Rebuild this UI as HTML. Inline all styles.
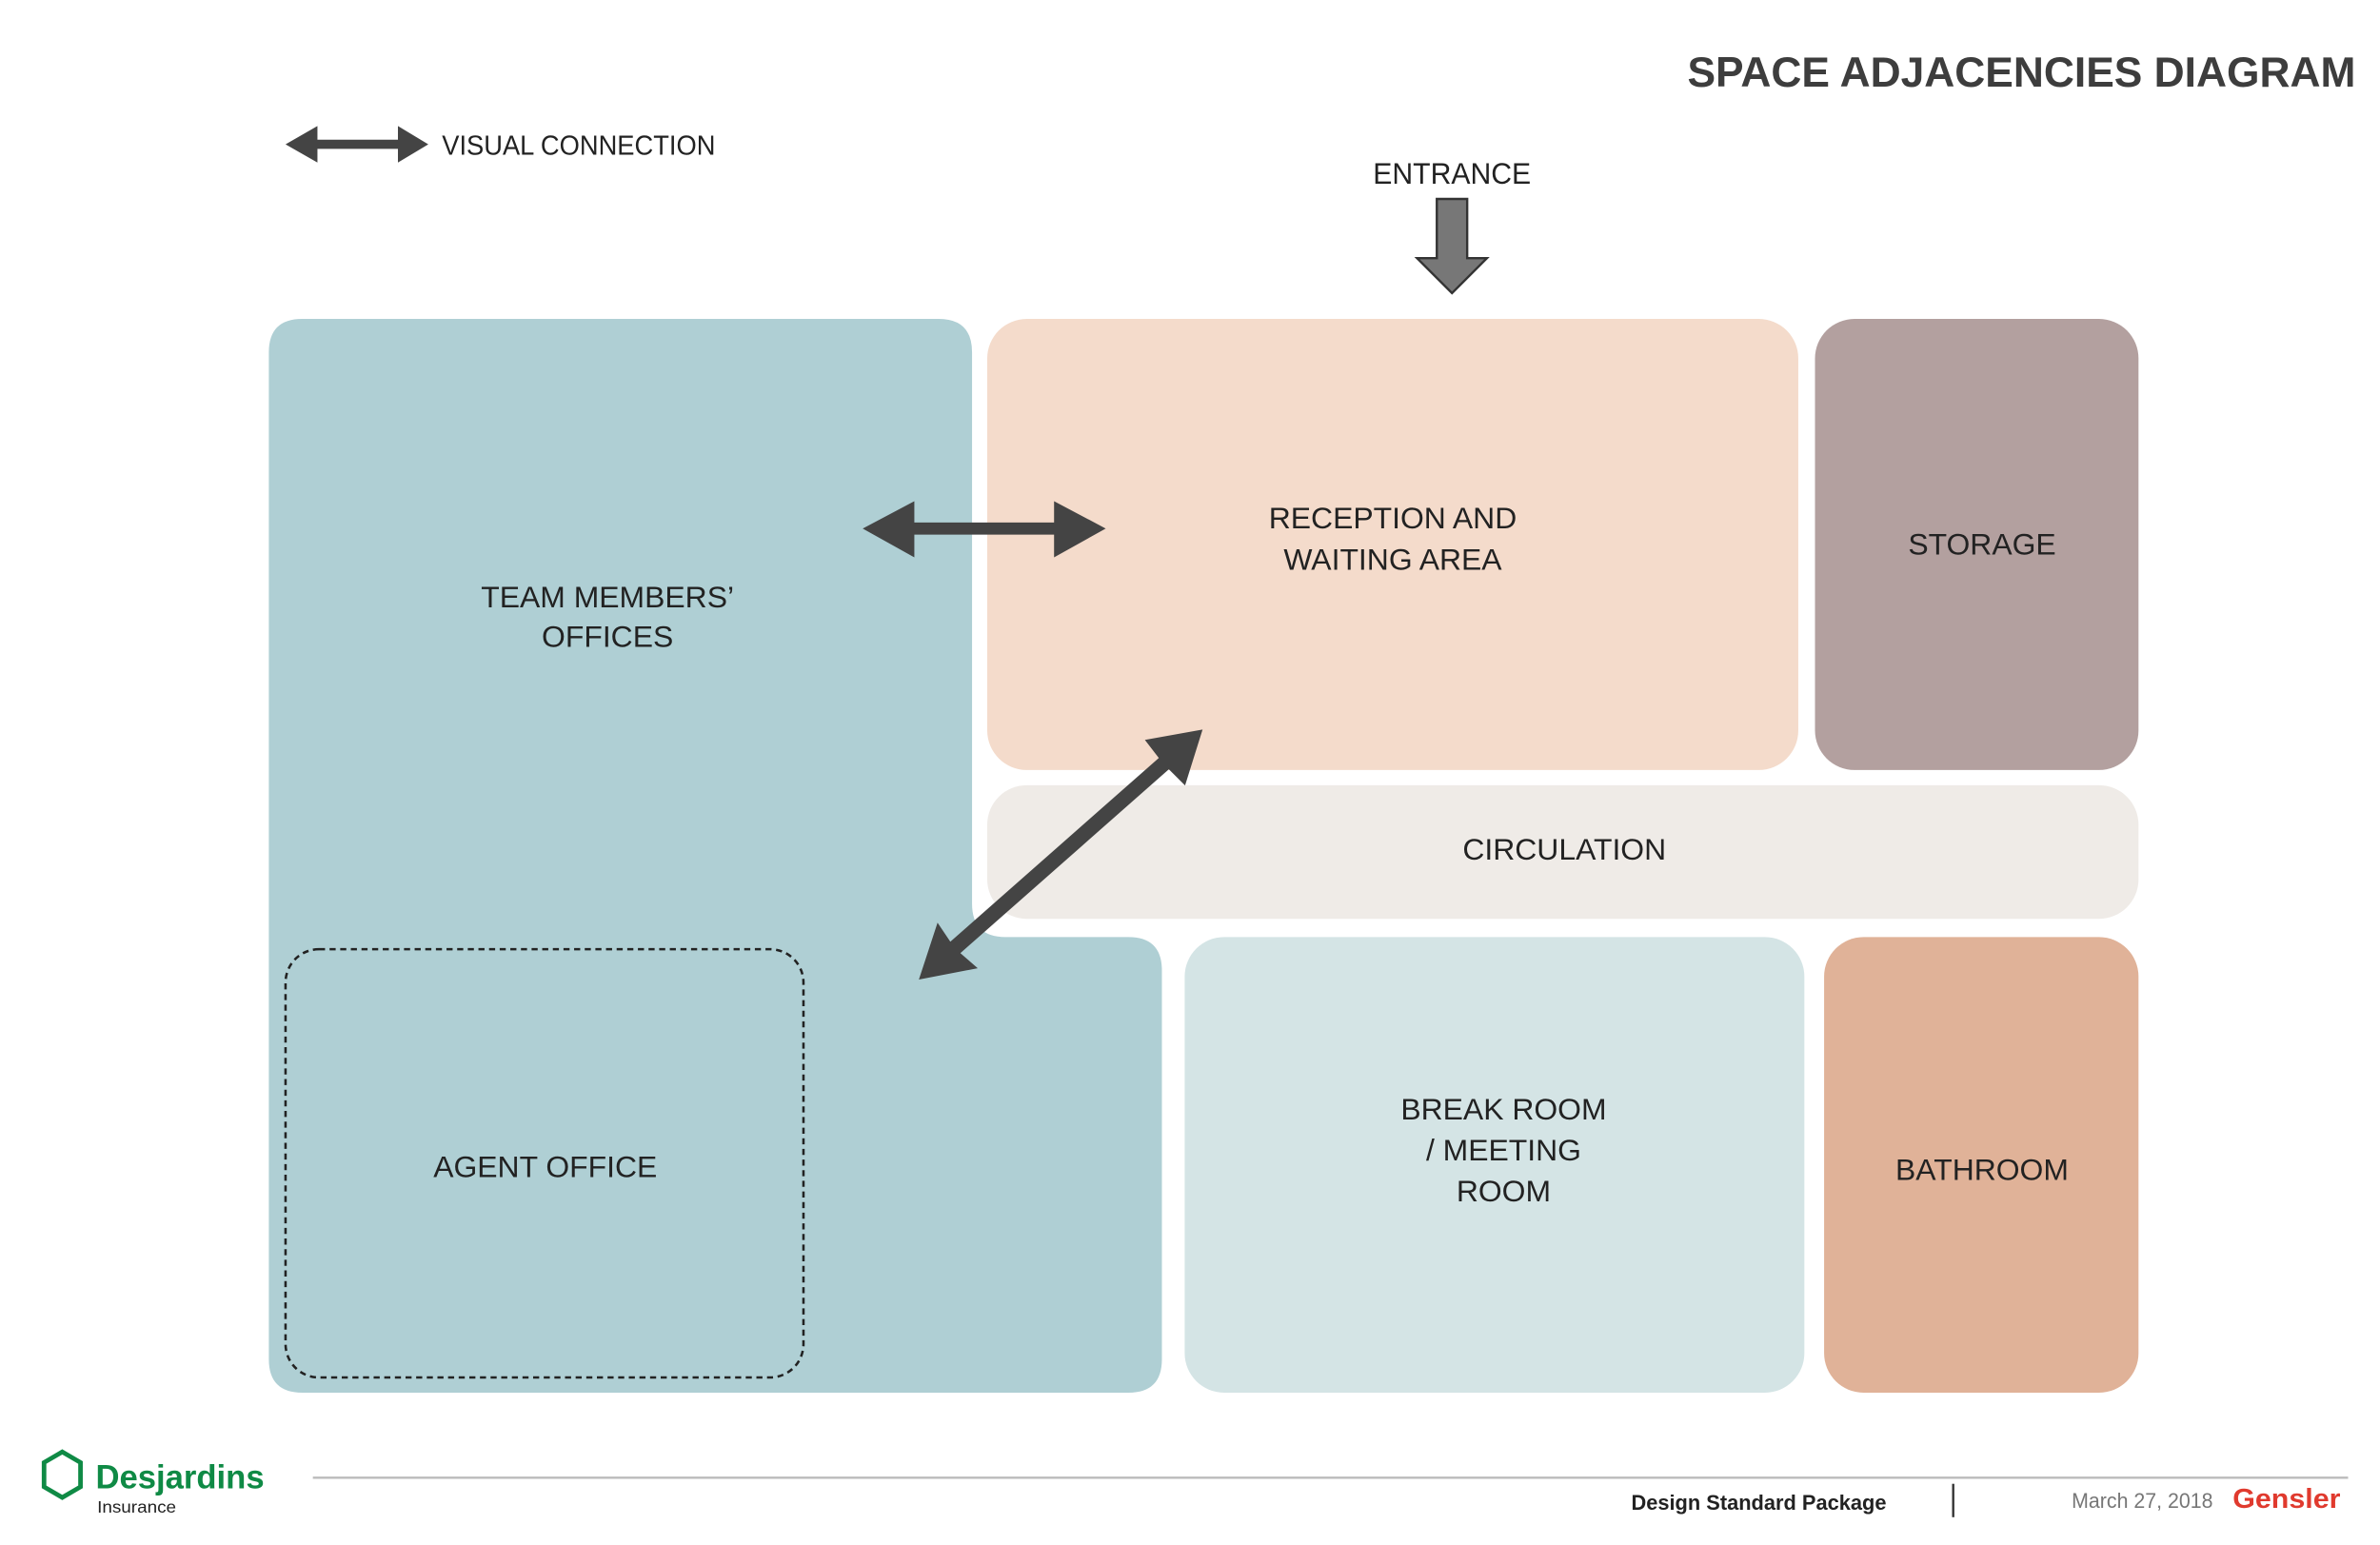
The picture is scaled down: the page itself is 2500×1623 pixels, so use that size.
<!DOCTYPE html>
<html><head><meta charset="utf-8"><style>
html,body{margin:0;padding:0;background:#fff;width:2500px;height:1623px;overflow:hidden}
svg{display:block}
text{font-family:"Liberation Sans",sans-serif;fill:#222}
</style></head><body>
<svg width="2500" height="1623" viewBox="0 0 1567 1017.3" xmlns="http://www.w3.org/2000/svg">
<text x="1551" y="57" text-anchor="end" font-size="28" font-weight="bold" textLength="440" lengthAdjust="spacingAndGlyphs" style="fill:#3d3d3d">SPACE ADJACENCIES DIAGRAM</text>
<polygon points="188,95 209,83 209,92 262,92 262,83 282,95 262,107 262,98 209,98 209,107" fill="#444"/>
<text x="291" y="102" font-size="18" textLength="180" lengthAdjust="spacingAndGlyphs">VISUAL CONNECTION</text>
<text x="956" y="121" text-anchor="middle" font-size="20" textLength="104" lengthAdjust="spacingAndGlyphs">ENTRANCE</text>
<polygon points="946,131 966,131 966,170 979,170 956,193 933,170 946,170" fill="#777" stroke="#333" stroke-width="1.5"/>
<path d="M199,210 H618 Q640,210 640,232 V595 Q640,617 662,617 H743 Q765,617 765,639 V895 Q765,917 743,917 H199 Q177,917 177,895 V232 Q177,210 199,210 Z" fill="#afcfd4"/>
<rect x="650" y="210" width="534" height="297" rx="26" fill="#f4dbcb"/>
<rect x="1195" y="210" width="213" height="297" rx="26" fill="#b3a09f"/>
<rect x="650" y="517" width="758" height="88" rx="26" fill="#efebe7"/>
<rect x="780" y="617" width="408" height="300" rx="26" fill="#d4e4e5"/>
<rect x="1201" y="617" width="207" height="300" rx="26" fill="#e0b298"/>
<rect x="188" y="625" width="341" height="282" rx="22" fill="none" stroke="#222" stroke-width="1.6" stroke-dasharray="4,3"/>
<g font-size="20" text-anchor="middle">
<text x="400" y="400">TEAM MEMBERS’</text><text x="400" y="426">OFFICES</text>
<text x="917" y="348">RECEPTION AND</text><text x="917" y="375">WAITING AREA</text>
<text x="1305" y="365">STORAGE</text>
<text x="1030" y="566">CIRCULATION</text>
<text x="359" y="775">AGENT OFFICE</text>
<text x="990" y="737">BREAK ROOM</text><text x="990" y="764">/ MEETING</text><text x="990" y="791">ROOM</text>
<text x="1305" y="777">BATHROOM</text>
</g>
<polygon points="568,348 602,330 602,344 694,344 694,330 728,348 694,367 694,352 602,352 602,367" fill="#444"/>
<g transform="translate(605,645) rotate(-41.4)">
<polygon points="0,0 34,-20 32,-5 215,-5 216,-20 249,0 216,20 215,5 32,5 34,20" fill="#444"/>
</g>
<line x1="206" y1="973" x2="1546" y2="973" stroke="#bbb" stroke-width="1.5"/>
<polygon points="41,956 53,963 53,979 41,986 29,979 29,963" fill="none" stroke="#0f8a45" stroke-width="3"/>
<text x="63" y="980" font-size="22" font-weight="bold" style="fill:#0f8a45" textLength="111" lengthAdjust="spacingAndGlyphs">Desjardins</text>
<text x="64" y="996" font-size="11" textLength="52" lengthAdjust="spacingAndGlyphs">Insurance</text>
<text x="1074" y="994" font-size="14" font-weight="bold" textLength="168" lengthAdjust="spacingAndGlyphs">Design Standard Package</text>
<line x1="1286" y1="977" x2="1286" y2="999" stroke="#333" stroke-width="1.5"/>
<text x="1364" y="993" font-size="14" style="fill:#777" textLength="93" lengthAdjust="spacingAndGlyphs">March 27, 2018</text>
<text x="1470" y="993" font-size="18" font-weight="bold" style="fill:#e03a2e" textLength="71" lengthAdjust="spacingAndGlyphs">Gensler</text>
</svg>
</body></html>
